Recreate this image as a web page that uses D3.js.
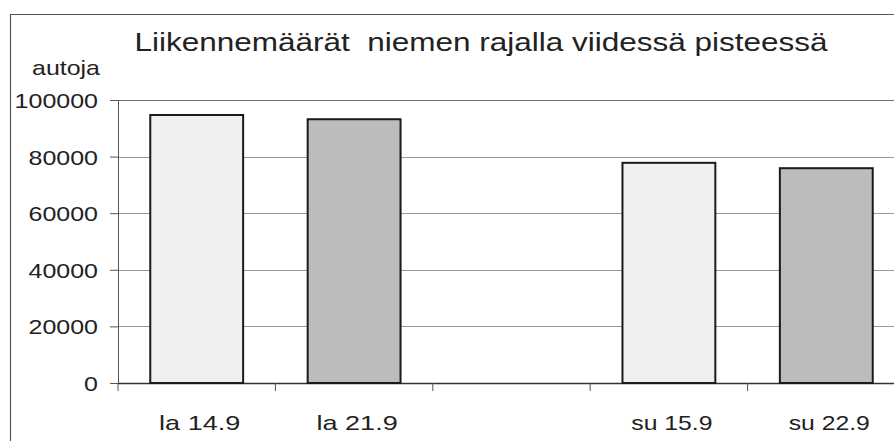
<!DOCTYPE html>
<html><head><meta charset="utf-8">
<script src="https://cdn.jsdelivr.net/npm/d3@7"></script>
<style>html,body{margin:0;padding:0;background:#fff;}svg{display:block;}</style>
</head><body><svg id="c" width="894" height="441"></svg>
<script>
const categories = ["la 14.9", "la 21.9", "", "su 15.9", "su 22.9"];
const values = [94700, 93200, null, 77800, 75900];
const barColors = ["#efefef", "#bcbcbc", "#efefef", "#efefef", "#bcbcbc"];
const yTicks = [0, 20000, 40000, 60000, 80000, 100000];
const titleText = "Liikennemäärät  niemen rajalla viidessä pisteessä";
const yLabel = "autoja";

(function(){
const svg = d3.select("#c");
const font = "'Liberation Sans', Arial, sans-serif";
const pLeft = 118, pTop = 100, pBottom = 383, pRight = 905;

// outer frame
svg.append("line").attr("x1",10).attr("x2",894).attr("y1",14.5).attr("y2",14.5).attr("stroke","#555").attr("stroke-width",1.2);
svg.append("line").attr("x1",10.5).attr("x2",10.5).attr("y1",14).attr("y2",441).attr("stroke","#555").attr("stroke-width",1.2);

const x = d3.scaleBand().domain(d3.range(categories.length)).range([pLeft, pRight]).paddingInner(0.41).paddingOuter(0.205);
const y = d3.scaleLinear().domain([0, 100000]).range([pBottom, pTop]);

// gridlines
svg.append("g").selectAll("line").data(yTicks.filter(d=>d>0)).join("line")
  .attr("x1", pLeft).attr("x2", 894).attr("y1", d=>Math.round(y(d))+0.5).attr("y2", d=>Math.round(y(d))+0.5)
  .attr("stroke", d=>d===100000?"#777":"#999").attr("stroke-width", 1);

// y axis
const yAxis = d3.axisLeft(y).tickValues(yTicks).tickSize(8).tickFormat(d3.format("d"));
const gy = svg.append("g").attr("transform", `translate(${pLeft},0)`).call(yAxis);
gy.select(".domain").attr("stroke","#555");
gy.selectAll(".tick line").attr("stroke","#555");
gy.selectAll(".tick text").attr("font-family", font).attr("font-size", 21).attr("fill","#222")
  .attr("x", -20).attr("dy","0.36em")
  .attr("textLength", d=>String(d).length*13.9).attr("lengthAdjust","spacingAndGlyphs");

// x axis
const stepX = x.step();
const tickPos = d3.range(categories.length + 1).map(i => pLeft + i*stepX);
svg.append("line").attr("x1", pLeft).attr("x2", 894).attr("y1", pBottom+0.5).attr("y2", pBottom+0.5).attr("stroke","#333").attr("stroke-width",1.5);
svg.append("g").selectAll("line").data(tickPos).join("line")
  .attr("x1", d=>d).attr("x2", d=>d).attr("y1", pBottom).attr("y2", pBottom+8).attr("stroke","#555");
svg.append("g").selectAll("text").data(categories.map((c,i)=>({c,i})).filter(d=>d.c)).join("text")
  .attr("x", d=>x(d.i)+x.bandwidth()/2 + 3).attr("y", 430)
  .attr("text-anchor","middle").attr("font-family", font).attr("font-size", 21).attr("fill","#222")
  .attr("textLength", d=>d.c.length*11.6).attr("lengthAdjust","spacingAndGlyphs")
  .text(d=>d.c);

// bars
svg.append("g").selectAll("rect").data(values.map((v,i)=>({v,i})).filter(d=>d.v!=null)).join("rect")
  .attr("x", d=>x(d.i)).attr("width", x.bandwidth())
  .attr("y", d=>y(d.v)).attr("height", d=>y(0)-y(d.v))
  .attr("fill", d=>barColors[d.i]).attr("stroke","#1a1a1a").attr("stroke-width",2);

// title
svg.append("text").attr("x", 481).attr("y", 51).attr("text-anchor","middle")
  .attr("font-family", font).attr("font-size", 25).attr("fill","#222")
  .attr("textLength", 693).attr("lengthAdjust","spacingAndGlyphs")
  .attr("xml:space","preserve").style("white-space","pre").text(titleText);

// y label
svg.append("text").attr("x", 66).attr("y", 75).attr("text-anchor","middle")
  .attr("font-family", font).attr("font-size", 21).attr("fill","#222")
  .attr("textLength", 68).attr("lengthAdjust","spacingAndGlyphs").text(yLabel);
})();
</script></body></html>
